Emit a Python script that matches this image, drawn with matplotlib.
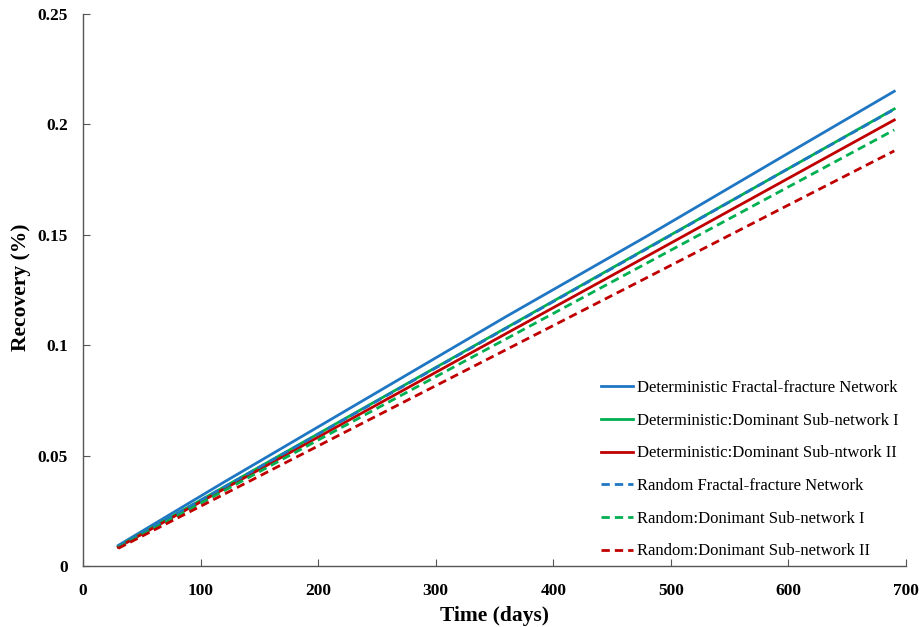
import matplotlib.pyplot as plt

days = [30, 120, 240, 360, 480, 600, 690]

det_fractal = [0.0093, 0.0380, 0.0755, 0.1130, 0.1495, 0.1870, 0.2150]
det_sub1 = [0.0088, 0.0358, 0.0719, 0.1079, 0.1440, 0.1800, 0.2070]
det_sub2 = [0.0085, 0.0349, 0.0701, 0.1053, 0.1404, 0.1756, 0.2020]
rand_fractal = [0.0088, 0.0357, 0.0717, 0.1077, 0.1438, 0.1800, 0.2068]
rand_sub1 = [0.0083, 0.0341, 0.0685, 0.1029, 0.1373, 0.1717, 0.1975]
rand_sub2 = [0.0080, 0.0325, 0.0653, 0.0980, 0.1307, 0.1635, 0.1880]

labels = [
    "Deterministic Fractal-fracture Network",
    "Deterministic:Dominant Sub-network I",
    "Deterministic:Dominant Sub-ntwork II",
    "Random Fractal-fracture Network",
    "Random:Donimant Sub-network I",
    "Random:Donimant Sub-network II",
]

BLUE = "#1f77c4"
GREEN = "#00b050"
RED = "#c00000"

plt.rcParams["font.family"] = ["Liberation Serif", "DejaVu Serif"]

fig = plt.figure(figsize=(9.19, 6.27), dpi=100)
ax = fig.add_axes([0.0903, 0.0973, 0.8956, 0.8804])

series = [
    (det_fractal, BLUE, "-"),
    (det_sub1, GREEN, "-"),
    (det_sub2, RED, "-"),
    (rand_fractal, BLUE, "--"),
    (rand_sub1, GREEN, "--"),
    (rand_sub2, RED, "--"),
]
for (vals, color, ls), label in zip(series, labels):
    line, = ax.plot(days, vals, color=color, linestyle=ls, linewidth=2.0, label=label)
    if ls == "--":
        line.set_dashes([3, 1.8])

ax.set_xlim(0, 700)
ax.set_ylim(0, 0.25)
ax.set_xticks([0, 100, 200, 300, 400, 500, 600, 700])
ax.set_yticks([0, 0.05, 0.1, 0.15, 0.2, 0.25])
ax.set_yticklabels(["0", "0.05", "0.1", "0.15", "0.2", "0.25"])

for side in ["top", "right"]:
    ax.spines[side].set_visible(False)
for side in ["left", "bottom"]:
    ax.spines[side].set_color("#555555")
    ax.spines[side].set_linewidth(1.0)

ax.tick_params(axis="both", direction="in", length=5, color="#555555", labelsize=12.5)
ax.tick_params(axis="x", pad=12)
ax.tick_params(axis="y", pad=11)
for lbl in ax.get_xticklabels() + ax.get_yticklabels():
    lbl.set_fontweight("bold")

ax.set_xlabel("Time (days)", fontsize=15.5, fontweight="bold")
ax.set_ylabel("Recovery (%)", fontsize=15.5, fontweight="bold")
ax.xaxis.set_label_coords(0.5, -0.072)
ax.yaxis.set_label_coords(-0.063, 0.505)

ax.legend(
    loc="upper left",
    bbox_to_anchor=(0.611, 0.364),
    frameon=False,
    fontsize=12,
    handlelength=1.9,
    handletextpad=0.25,
    labelspacing=1.0,
)

fig.savefig("out.png", dpi=100)
